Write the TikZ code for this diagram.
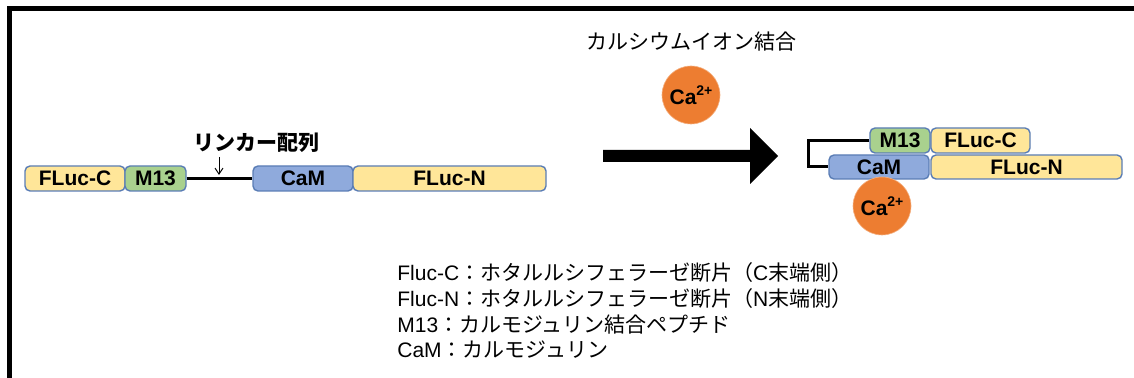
\documentclass[tikz,border=0pt]{standalone}
\usepackage{fontspec}
\setmainfont{Liberation Sans}
\newfontfamily\jp{Noto Sans CJK JP}
\usetikzlibrary{arrows.meta}
\definecolor{fyellow}{HTML}{FFE699}
\definecolor{fgreen}{HTML}{A9D18E}
\definecolor{fblue}{HTML}{8FAADC}
\definecolor{forange}{HTML}{ED7D31}
\definecolor{fborder}{HTML}{5A7DB5}
\tikzset{
  dom/.style={draw=fborder, line width=0.7pt, rounded corners=2.5pt, inner sep=0pt,
    minimum height=12.5pt, font=\bfseries\fontsize{10.5}{12}\selectfont},
  ion/.style={circle, fill=forange, draw=forange!60!white, line width=0.3pt, minimum size=29pt, inner sep=0pt,
    font=\bfseries\fontsize{10.5}{12}\selectfont},
  legend/.style={anchor=west, inner sep=0pt, font=\fontsize{10.5}{12}\selectfont},
  linker/.style={line width=1.5pt, black},
}
\newcommand{\caion}{Ca\raisebox{0.45em}{\fontsize{7}{8}\selectfont 2+}}
\begin{document}
\begin{tikzpicture}[x=0.5pt,y=-0.5pt]
\useasboundingbox (0,0) rectangle (1134,378);
% frame
\draw[line width=2.5pt] (9.5,378) -- (9.5,8.5) -- (1134,8.5);
% left construct
\node[dom, fill=fyellow, minimum width=50pt] (fc1) at (75,178.5) {FLuc-C};
\node[dom, fill=fgreen, minimum width=30.5pt] (m1) at (155.5,178.5) {M13};
\node[dom, fill=fblue, minimum width=50pt] (cam1) at (303,178.5) {CaM};
\node[dom, fill=fyellow, minimum width=96.5pt] (fn1) at (449.5,178.5) {FLuc-N};
\draw[linker] (m1.east) -- (cam1.west);
\node[inner sep=0pt, font=\jp\bfseries\fontsize{10.5}{12}\selectfont] (lk) at (256,143) {リンカー配列};
\coordinate (arrtop) at (219,157);
\coordinate (arrtip) at (219,175);
\draw[line width=0.5pt, -{Straight Barb[length=3pt,width=4pt]}] (arrtop) -- (arrtip);
% top label and ion
\node[inner sep=0pt, font=\jp\fontsize{10.5}{12}\selectfont] (lbl) at (691,42) {カルシウムイオン結合};
\node[ion] (ca1) at (691,95) {\caion};
% big arrow
\fill (603,150) -- (750,150) -- (750,128) -- (778,156) -- (750,184) -- (750,162) -- (603,162) -- cycle;
% right complex
\node[dom, fill=fgreen, minimum width=30pt] (m2) at (900,140.5) {M13};
\node[dom, fill=fyellow, minimum width=49.5pt] (fc2) at (980.5,140.5) {FLuc-C};
\node[dom, fill=fblue, minimum width=50pt, minimum height=12pt] (cam2) at (879,167) {CaM};
\node[dom, fill=fyellow, minimum width=95.5pt, minimum height=12pt] (fn2) at (1026.5,167) {FLuc-N};
\coordinate (bend) at (808,140.5);
\draw[linker] (m2.west) -- (bend) |- (cam2.west);
\node[ion] (ca2) at (882,206) {\caion};
% legend
\node[legend] (l1) at (397,273) {Fluc-C{\jp ：ホタルルシフェラーゼ断片（}C{\jp 末端側）}};
\node[legend] (l2) at (397,299) {Fluc-N{\jp ：ホタルルシフェラーゼ断片（}N{\jp 末端側）}};
\node[legend] (l3) at (397,325) {M13{\jp ：カルモジュリン結合ペプチド}};
\node[legend] (l4) at (397,350) {CaM{\jp ：カルモジュリン}};
\end{tikzpicture}
\end{document}
